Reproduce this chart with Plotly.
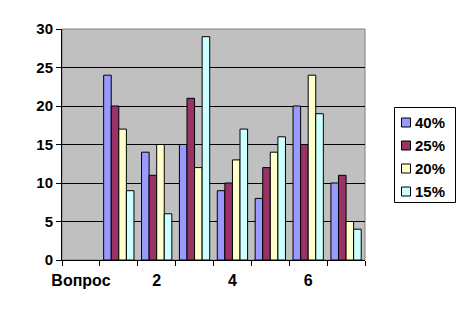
import plotly.graph_objects as go

categories = ["Вопрос", "1", "2", "3", "4", "5", "6", "7"]
series_names = ["40%", "25%", "20%", "15%"]
s40 = [None, 24, 14, 15, 9, 8, 20, 10]
s25 = [None, 20, 11, 21, 10, 12, 15, 11]
s20 = [None, 17, 15, 12, 13, 14, 24, 5]
s15 = [None, 9, 6, 29, 17, 16, 19, 4]
shown_ticks = ["Вопрос", "2", "4", "6"]

colors = ["#9999FF", "#993366", "#FFFFCC", "#CCFFFF"]
xpos = list(range(len(categories)))

W, H = 464, 310
ML, MR, MT, MB = 62, 99, 29, 50
PW, PH = W - ML - MR, H - MT - MB


def px_x(px):
    return (px - ML) / PW


def px_y(py):
    return (H - MB - py) / PH


fig = go.Figure()
for name, vals, col in zip(series_names, [s40, s25, s20, s15], colors):
    fig.add_trace(go.Bar(
        x=xpos, y=vals, name=name,
        marker=dict(color=col, line=dict(color="black", width=1)),
    ))

font_family = "Liberation Sans, Arial, sans-serif"
fig.update_layout(
    width=W, height=H,
    margin=dict(l=ML, r=MR, t=MT, b=MB, autoexpand=False),
    paper_bgcolor="white",
    plot_bgcolor="#C0C0C0",
    barmode="group",
    bargap=0.2,
    bargroupgap=0,
    font=dict(family=font_family, size=15, color="black"),
    showlegend=False,
)
fig.update_xaxes(
    range=[-0.5, len(categories) - 0.5],
    tickvals=[categories.index(t) for t in shown_ticks],
    ticktext=shown_ticks,
    ticks="outside", ticklen=0,
    ticklabelstandoff=6,
    minor=dict(ticks="outside", ticklen=5, tick0=-0.5, dtick=1, tickcolor="black", showgrid=False),
    showline=True, linecolor="black", linewidth=1,
    showgrid=False, zeroline=False,
    tickfont=dict(family=font_family, size=16, color="black", weight="bold"),
)
fig.update_yaxes(
    range=[0, 30], dtick=5,
    ticks="outside", ticklen=5, tickcolor="black",
    showline=True, linecolor="black", linewidth=1,
    showgrid=True, gridcolor="black", gridwidth=1,
    zeroline=False,
    tickfont=dict(family=font_family, size=15, color="black", weight="bold"),
)
fig.add_shape(type="rect", xref="paper", yref="paper", x0=0, y0=0, x1=1, y1=1,
              line=dict(color="#808080", width=1), layer="below")

# manual legend (Excel style)
fig.add_shape(type="rect", xref="paper", yref="paper",
              x0=px_x(394.5), x1=px_x(455.5), y0=px_y(107.5), y1=px_y(202.5),
              line=dict(color="black", width=1), fillcolor="white")
for i, (name, col) in enumerate(zip(series_names, colors)):
    cy = 122.5 + 23 * i
    fig.add_shape(type="rect", xref="paper", yref="paper",
                  x0=px_x(401.5), x1=px_x(410.5), y0=px_y(cy - 4.5), y1=px_y(cy + 4.5),
                  line=dict(color="black", width=1), fillcolor=col)
    fig.add_annotation(xref="paper", yref="paper", x=px_x(413), y=px_y(cy),
                       xanchor="left", yanchor="middle", showarrow=False,
                       text="<b>" + name + "</b>",
                       font=dict(family=font_family, size=15, color="black"))

fig.write_html("out.html")
